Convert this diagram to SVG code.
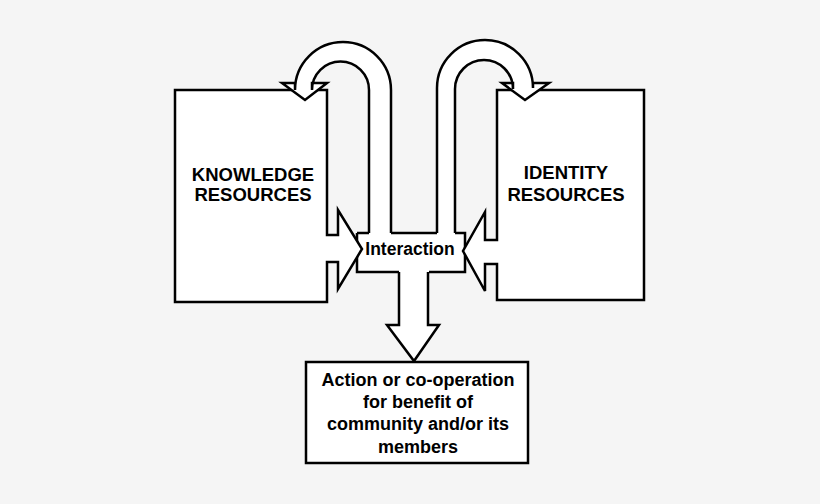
<svg xmlns="http://www.w3.org/2000/svg" width="820" height="504" viewBox="0 0 820 504">
<style>
.s{fill:#fff;stroke:#000;stroke-width:2.5;stroke-linejoin:miter}
.l{fill:none;stroke:#000;stroke-width:2.5}
text{font-family:"Liberation Sans",Arial,sans-serif;font-weight:bold;fill:#000;text-anchor:middle}
</style>
<rect width="820" height="504" fill="#f5f5f5"/>
<g id="interaction">
<rect x="357" y="233" width="108" height="39" fill="#fff"/>
<path class="l" d="M357,233 H369 M391,233 H437 M455,233 H465 V272 H429 M399,272 H357 V233"/>
</g>
<g id="knowledge">
<path class="s" d="M175,90 H327 V235 H338 V210 L362,249 L338,289 V262 H327 V302 H175 Z"/>
<text x="253" y="181" font-size="18.5">KNOWLEDGE</text>
<text x="253" y="201" font-size="18.5">RESOURCES</text>
</g>
<g id="identity">
<path class="s" d="M644,90 H497 V240 H485 V212 L463,251 L485,291 V264 H497 V300 H644 Z"/>
<text x="566" y="179" font-size="18.5">IDENTITY</text>
<text x="566" y="201" font-size="18.5">RESOURCES</text>
</g>
<g id="connectors">
<path class="s" d="M391,233 V90 A48,48 0 0 0 295,90 V83 H282 L305,100 L327,83 H312 V90 A28.5,28.5 0 0 1 369,90 V233"/>
<path class="s" d="M437,233 V88 A48,48 0 0 1 533,88 V83 H549 L525,100 L502,83 H513 V89 A29,29 0 0 0 455,89 V233"/>
</g>
<text x="410" y="255" font-size="17.5">Interaction</text>
<g id="down-arrow">
<path class="s" d="M399,272 V325 H387 L414,361 L439,325 H428 V272"/>
</g>
<g id="action">
<rect class="s" x="306" y="362" width="222" height="101"/>
<text x="418" y="386" font-size="18">Action or co-operation</text>
<text x="418" y="408" font-size="18">for benefit of</text>
<text x="418" y="430" font-size="18">community and/or its</text>
<text x="418" y="453" font-size="18">members</text>
</g>
</svg>
